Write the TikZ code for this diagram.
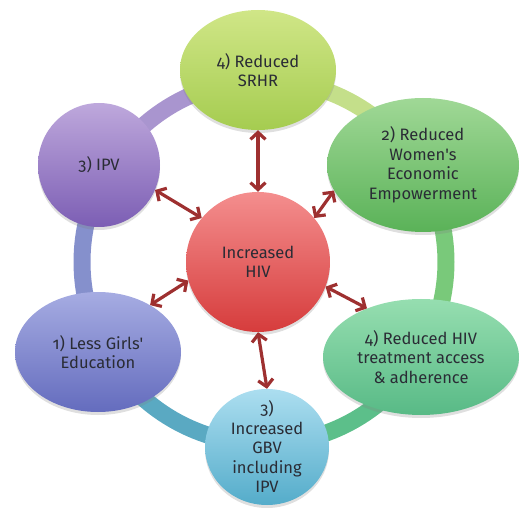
\documentclass[tikz,border=0pt]{standalone}
\usepackage{fontspec}
\setmainfont[Numbers=OldStyle]{Fira Sans}
\usepackage{tikz}
\usetikzlibrary{shapes.geometric}
\usetikzlibrary{arrows.meta}
\usetikzlibrary{shadows}

\definecolor{txt}{HTML}{2A2C35}
\definecolor{arrowred}{HTML}{9E3030}

\begin{document}
\begin{tikzpicture}[x=1pt,y=1pt,
  bubble/.style={ellipse,inner sep=0pt,align=center,text=txt,
    font=\fontsize{16.5}{19.5}\selectfont,
    drop shadow={shadow xshift=0pt,shadow yshift=-3pt,opacity=.25}},
  link/.style={arrowred,line width=3.2pt,
    {Straight Barb[length=7pt,width=15pt]}-{Straight Barb[length=7pt,width=15pt]}},
  band/.style={line width=17pt}]
\useasboundingbox (0,0) rectangle (520,507);
\coordinate (o) at (264,245);
% ring behind the bubbles
\draw[band,color={rgb,255:red,169;green,149;blue,207}] (o) ++(90:182) arc[start angle=90,end angle=150,radius=182];
\draw[band,color={rgb,255:red,133;green,144;blue,204}] (o) ++(150:182) arc[start angle=150,end angle=210,radius=182];
\draw[band,color={rgb,255:red,90;green,169;blue,194}] (o) ++(210:182) arc[start angle=210,end angle=270,radius=182];
\draw[band,color={rgb,255:red,92;green,191;blue,138}] (o) ++(270:182) arc[start angle=270,end angle=330,radius=182];
\draw[band,color={rgb,255:red,121;green,201;blue,122}] (o) ++(330:182) arc[start angle=330,end angle=390,radius=182];
\draw[band,color={rgb,255:red,196;green,223;blue,138}] (o) ++(30:182) arc[start angle=30,end angle=90,radius=182];

\path (258,437) node(srhr)[bubble,minimum width=156pt,minimum height=120pt,
    top color={rgb,255:red,208;green,230;blue,135},bottom color={rgb,255:red,165;green,204;blue,80}]{4) Reduced\\SRHR}
(423,342) node(wom)[bubble,minimum width=192pt,minimum height=134pt,
    top color={rgb,255:red,160;green,216;blue,150},bottom color={rgb,255:red,90;green,178;blue,88}]{2) Reduced\\Women\textquotesingle s\\Economic\\Empowerment}
(421,150) node(treat)[bubble,minimum width=196pt,minimum height=116pt,
    top color={rgb,255:red,150;green,222;blue,176},bottom color={rgb,255:red,88;green,186;blue,134}]{4) Reduced HIV\\treatment access\\\& adherence}
(267,60) node(gbv)[bubble,minimum width=124pt,minimum height=116pt,inner ysep=-9pt,
    top color={rgb,255:red,172;green,222;blue,240},bottom color={rgb,255:red,84;green,172;blue,202}]{3)\\Increased\\GBV\\including\\IPV}
(98,155) node(edu)[bubble,minimum width=166pt,minimum height=120pt,
    top color={rgb,255:red,166;green,172;blue,226},bottom color={rgb,255:red,100;green,108;blue,190}]{1) Less Girls\textquotesingle\\Education}
(99,342) node(ipv)[bubble,minimum width=122pt,minimum height=124pt,
    top color={rgb,255:red,190;green,168;blue,220},bottom color={rgb,255:red,124;green,94;blue,180}]{3) IPV}
(258,245) node(hiv)[bubble,minimum width=144pt,minimum height=140pt,
    top color={rgb,255:red,244;green,142;blue,142},bottom color={rgb,255:red,214;green,60;blue,60}]{Increased\\HIV};

\draw[link] (hiv.90) -- (srhr.270);
\draw[link] (hiv.38) -- (wom.196);
\draw[link] (hiv.-20) -- (treat.138);
\draw[link] (hiv.270) -- (gbv.90);
\draw[link] (hiv.195) -- (edu.42);
\draw[link] (hiv.142) -- (ipv.-24);
\end{tikzpicture}
\end{document}
